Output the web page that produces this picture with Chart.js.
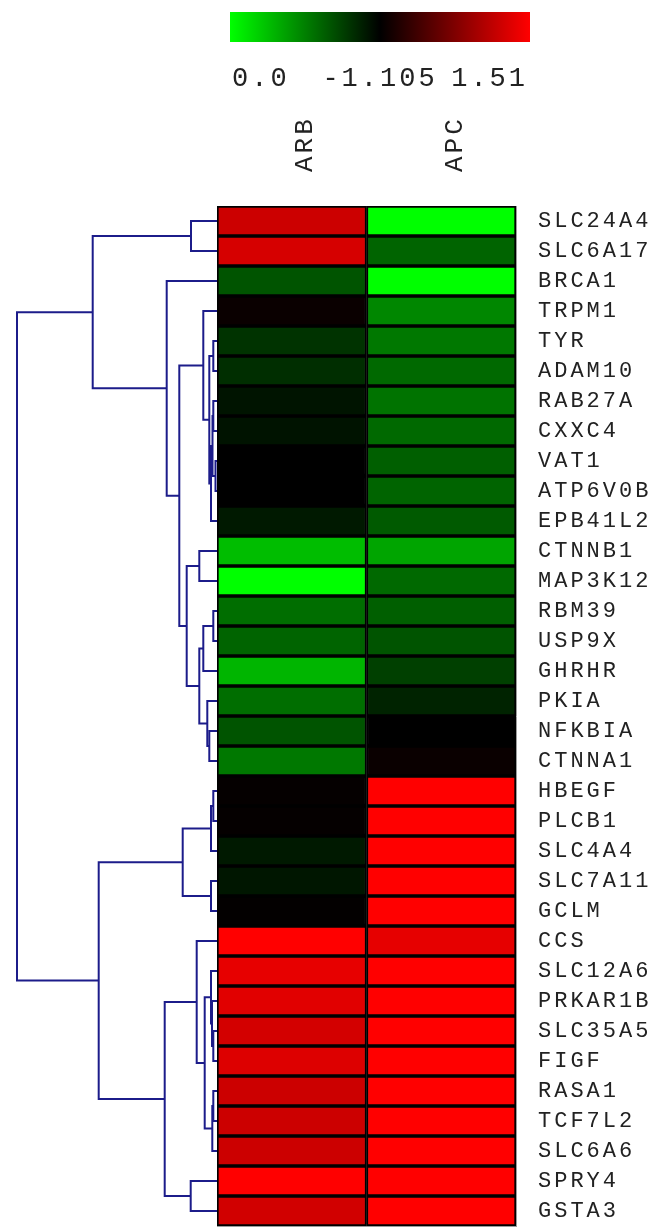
<!DOCTYPE html>
<html>
<head>
<meta charset="utf-8">
<title>Clustered heatmap</title>
<script src="https://cdn.jsdelivr.net/npm/chart.js@4.4.1/dist/chart.umd.min.js"></script>
<style>
    html, body { margin: 0; padding: 0; background: #ffffff; }
    #wrap { position: relative; width: 663px; height: 1227px; }
</style>
</head>
<body>
<div id="wrap"><canvas id="heatmap" width="663" height="1227"></canvas></div>
<script>
var genes = ['SLC24A4', 'SLC6A17', 'BRCA1', 'TRPM1', 'TYR', 'ADAM10', 'RAB27A', 'CXXC4', 'VAT1', 'ATP6V0B',
    'EPB41L2', 'CTNNB1', 'MAP3K12', 'RBM39', 'USP9X', 'GHRHR', 'PKIA', 'NFKBIA', 'CTNNA1', 'HBEGF',
    'PLCB1', 'SLC4A4', 'SLC7A11', 'GCLM', 'CCS', 'SLC12A6', 'PRKAR1B', 'SLC35A5', 'FIGF', 'RASA1',
    'TCF7L2', 'SLC6A6', 'SPRY4', 'GSTA3'];
var conditions = ['ARB', 'APC'];

var arbValues = [1.21, 1.27, -0.50, 0.06, -0.30, -0.27, -0.12, -0.11, 0.00, 0.00,
    -0.15, -1.12, -1.60, -0.65, -0.59, -1.07, -0.65, -0.50, -0.71, 0.03,
    0.03, -0.15, -0.13, 0.02, 1.55, 1.37, 1.33, 1.25, 1.31, 1.21,
    1.21, 1.21, 1.60, 1.24];
var apcValues = [-1.60, -0.59, -1.60, -0.80, -0.71, -0.62, -0.68, -0.62, -0.56, -0.59,
    -0.53, -0.98, -0.62, -0.56, -0.50, -0.38, -0.21, 0.00, 0.06, 1.60,
    1.60, 1.60, 1.60, 1.60, 1.36, 1.60, 1.60, 1.60, 1.60, 1.60,
    1.60, 1.60, 1.60, 1.60];

// row tree: [left, right, height]; ids below 34 are rows, 34 + k is merge k
var merges = [
    [0, 1, 0.130],   [4, 5, 0.0185],  [6, 7, 0.0185],  [8, 9, 0.0075],  [36, 37, 0.0225],
    [38, 10, 0.030], [35, 39, 0.0385], [3, 40, 0.0685], [11, 12, 0.0885], [13, 14, 0.0185],
    [43, 15, 0.0685], [17, 18, 0.0385], [16, 45, 0.0485], [44, 46, 0.0885], [42, 47, 0.1515],
    [41, 48, 0.1885], [2, 49, 0.2515], [34, 50, 0.6215], [19, 20, 0.0185], [52, 21, 0.030],
    [22, 23, 0.030], [53, 54, 0.1715], [27, 28, 0.0185], [26, 56, 0.025], [25, 57, 0.030],
    [29, 30, 0.0185], [59, 31, 0.0235], [58, 60, 0.0615], [24, 61, 0.1015], [32, 33, 0.1315],
    [62, 63, 0.2615], [55, 64, 0.5915], [51, 65, 1.000]
];

var colorbarLabels = ['0.0', '-1.105', '1.51'];
var contrast = 1.51;

var TEXT = '#222222';
var TREE = 'rgb(28,28,138)';
var FRAME = '#9c9c9c';
var MONO = '"Liberation Mono", "DejaVu Sans Mono", monospace';

function valueColor(v) {
    var t = Math.min(Math.abs(v) / contrast, 1);
    var c = Math.round(255 * t);
    return v >= 0 ? 'rgb(' + c + ',0,0)' : 'rgb(0,' + c + ',0)';
}

function cellDataset(label, values, col) {
    return {
        type: 'bar',
        label: label,
        data: values.map(function() { return [col, col + 1]; }),
        backgroundColor: values.map(valueColor),
        borderColor: '#000000',
        borderWidth: 2,
        borderSkipped: false,
        grouped: false,
        barPercentage: 1,
        categoryPercentage: 1,
        xAxisID: 'x',
        yAxisID: 'y'
    };
}

function treeDatasets() {
    var pos = [], height = [];
    for (var i = 0; i < genes.length; i++) { pos.push(i); height.push(0); }
    var sets = [];
    merges.forEach(function(m) {
        var a = m[0], b = m[1], h = m[2];
        sets.push({
            type: 'line',
            indexAxis: 'x',
            data: [
                { x: height[a], y: pos[a] },
                { x: h, y: pos[a] },
                { x: h, y: pos[b] },
                { x: height[b], y: pos[b] }
            ],
            borderColor: TREE,
            borderWidth: 2,
            pointRadius: 0,
            fill: false,
            tension: 0,
            clip: false,
            xAxisID: 'xd',
            yAxisID: 'yd'
        });
        pos.push((pos[a] + pos[b]) / 2);
        height.push(h);
    });
    return sets;
}

var spacingPlugin = {
    id: 'spacing',
    beforeDraw: function(chart) {
        chart.ctx.letterSpacing = '3px';
    }
};

var colorbarPlugin = {
    id: 'colorbar',
    afterDraw: function(chart) {
        var ctx = chart.ctx;
        var x0 = 230, x1 = 530, y0 = 12, h = 30;
        ctx.save();
        var grad = ctx.createLinearGradient(x0, 0, x1, 0);
        grad.addColorStop(0, valueColor(-contrast));
        grad.addColorStop(0.5, valueColor(0));
        grad.addColorStop(1, valueColor(contrast));
        ctx.fillStyle = grad;
        ctx.fillRect(x0, y0, x1 - x0, h);

        ctx.letterSpacing = '3px';
        ctx.font = '27px ' + MONO;
        ctx.fillStyle = TEXT;
        ctx.textBaseline = 'alphabetic';
        ctx.textAlign = 'left';
        ctx.fillText(colorbarLabels[0], x0 + 2, 86);
        ctx.textAlign = 'center';
        ctx.fillText(colorbarLabels[1], (x0 + x1) / 2, 86);
        ctx.textAlign = 'right';
        ctx.fillText(colorbarLabels[2], x1 - 2, 86);
        ctx.restore();
    }
};

var datasets = [cellDataset('ARB', arbValues, 0), cellDataset('APC', apcValues, 1)].concat(treeDatasets());

new Chart(document.getElementById('heatmap').getContext('2d'), {
    type: 'bar',
    data: { labels: genes, datasets: datasets },
    plugins: [spacingPlugin, colorbarPlugin],
    options: {
        indexAxis: 'y',
        responsive: false,
        devicePixelRatio: 1,
        animation: false,
        layout: { padding: { left: 217, right: 0, top: 0, bottom: 1 } },
        plugins: { legend: { display: false }, tooltip: { enabled: false } },
        scales: {
            x: {
                type: 'linear', axis: 'x', position: 'bottom', min: 0, max: 2, z: 1,
                grid: { display: false, drawTicks: false },
                ticks: { display: false },
                border: { display: true, color: FRAME, width: 1 }
            },
            xc: {
                type: 'category', axis: 'x', position: 'top', labels: conditions, offset: true, z: 1,
                grid: { display: false, drawTicks: false },
                border: { display: true, color: FRAME, width: 1 },
                ticks: {
                    minRotation: 90, maxRotation: 90, padding: 34, labelOffset: 45,
                    color: TEXT, font: { family: MONO, size: 26 }
                },
                afterFit: function(scale) { scale.height = 206; }
            },
            xd: { type: 'linear', axis: 'x', display: false, offset: false, reverse: true, min: -1.495, max: 0 },
            y: {
                type: 'category', axis: 'y', position: 'right', offset: true, z: 1,
                grid: { display: false, drawTicks: false },
                border: { display: true, color: FRAME, width: 1 },
                ticks: { autoSkip: false, padding: 22, color: TEXT, font: { family: MONO, size: 22 } },
                afterFit: function(scale) {
                    scale.width = 147;
                    scale.paddingTop = 0;
                    scale.paddingBottom = 0;
                }
            },
            yd: {
                type: 'linear', axis: 'y', position: 'left', offset: false,
                min: -0.5, max: 33.5, reverse: true, z: 1,
                grid: { display: false, drawTicks: false, offset: false },
                ticks: { display: false },
                border: { display: true, color: FRAME, width: 1 }
            }
        }
    }
});
</script>
</body>
</html>
